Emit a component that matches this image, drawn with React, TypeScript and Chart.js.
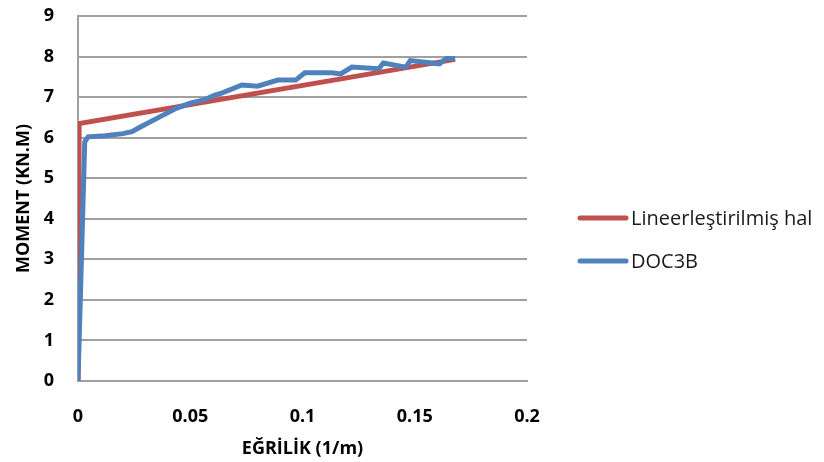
import React, { useEffect, useRef } from "react";
import { Chart, registerables } from "chart.js";

Chart.register(...registerables);

const seriesNames = ["Lineerleştirilmiş hal", "DOC3B"];
const seriesColors = ["#C0504D", "#4F81BD"];

const linearX = [0, 0.0005, 0.168];
const linearY = [0, 6.35, 7.93];

const docX = [0, 0.003, 0.0045, 0.012, 0.02, 0.024, 0.028, 0.036, 0.044, 0.05, 0.056, 0.061, 0.064, 0.073, 0.08, 0.089, 0.097, 0.101, 0.113, 0.117, 0.122, 0.134, 0.136, 0.146, 0.148, 0.161, 0.164, 0.168];
const docY = [0, 5.9, 6.02, 6.05, 6.1, 6.15, 6.27, 6.5, 6.73, 6.85, 6.93, 7.05, 7.1, 7.3, 7.27, 7.42, 7.42, 7.6, 7.6, 7.57, 7.74, 7.7, 7.84, 7.74, 7.9, 7.82, 7.95, 7.95];

const xTicks = [0, 0.05, 0.1, 0.15, 0.2];
const yTicks = [0, 1, 2, 3, 4, 5, 6, 7, 8, 9];

const FONT = "'Open Sans', 'DejaVu Sans', sans-serif";

const sideLegend = {
  id: "sideLegend",
  afterDraw(chart: any) {
    const ctx = chart.ctx;
    const rows = [218, 261];
    ctx.save();
    chart.data.datasets.forEach((ds: any, i: number) => {
      const y = rows[i];
      ctx.strokeStyle = ds.borderColor;
      ctx.lineWidth = 5;
      ctx.lineCap = "round";
      ctx.beginPath();
      ctx.moveTo(580, y);
      ctx.lineTo(626, y);
      ctx.stroke();
      ctx.fillStyle = "#1a1a1a";
      ctx.font = `20px ${FONT}`;
      ctx.textBaseline = "middle";
      ctx.textAlign = "left";
      ctx.fillText(ds.label, 631, y + 1);
    });
    ctx.restore();
  },
};

export default function App() {
  const ref = useRef<HTMLCanvasElement>(null);
  useEffect(() => {
    document.body.style.margin = "0";
    const canvas = ref.current!;
    const chart = new Chart(canvas, {
      type: "line",
      data: {
        datasets: [
          {
            label: seriesNames[0],
            data: linearX.map((x, i) => ({ x, y: linearY[i] })),
            borderColor: seriesColors[0],
            backgroundColor: seriesColors[0],
            borderWidth: 5,
            pointRadius: 0,
            tension: 0,
            order: 1,
          },
          {
            label: seriesNames[1],
            data: docX.map((x, i) => ({ x, y: docY[i] })),
            borderColor: seriesColors[1],
            backgroundColor: seriesColors[1],
            borderWidth: 5,
            pointRadius: 0,
            tension: 0,
            order: 0,
          },
        ],
      },
      options: {
        responsive: false,
        animation: false,
        layout: { padding: { left: 13, right: 297, top: 16, bottom: 0 } },
        plugins: { legend: { display: false }, tooltip: { enabled: false } },
        scales: {
          x: {
            type: "linear",
            min: 0,
            max: 0.2,
            afterBuildTicks: (s: any) => {
              s.ticks = xTicks.map((v) => ({ value: v }));
            },
            afterFit: (s: any) => {
              s.height = 81;
              s.paddingLeft = 0;
              s.paddingRight = 0;
            },
            grid: { display: false, drawTicks: false, tickLength: 0 },
            border: { display: true, color: "#a0a0a0", width: 2 },
            ticks: {
              padding: 25,
              color: "#000",
              font: { family: FONT, size: 18, weight: "bold" },
              callback: (v: any) => String(v),
            },
            title: {
              display: true,
              text: "EĞRİLİK (1/m)",
              color: "#000",
              font: { family: FONT, size: 18, weight: "bold" },
              padding: { top: 11, bottom: 2 },
            },
          },
          y: {
            type: "linear",
            min: 0,
            max: 9,
            afterBuildTicks: (s: any) => {
              s.ticks = yTicks.map((v) => ({ value: v }));
            },
            afterFit: (s: any) => {
              s.width = 65;
              s.paddingTop = 0;
              s.paddingBottom = 0;
            },
            grid: { color: "#a0a0a0", lineWidth: 2, drawTicks: false, tickLength: 0 },
            border: { display: true, color: "#a0a0a0", width: 2 },
            ticks: {
              padding: 24,
              color: "#000",
              font: { family: FONT, size: 18, weight: "bold" },
            },
            title: {
              display: true,
              text: "MOMENT (KN.M)",
              color: "#000",
              font: { family: FONT, size: 18, weight: "bold" },
              padding: { top: 0, bottom: 0 },
            },
          },
        },
      },
      plugins: [sideLegend],
    });
    return () => chart.destroy();
  }, []);
  return (
    <div style={{ width: 824, height: 462, background: "#fff" }}>
      <canvas ref={ref} width={824} height={462} />
    </div>
  );
}
